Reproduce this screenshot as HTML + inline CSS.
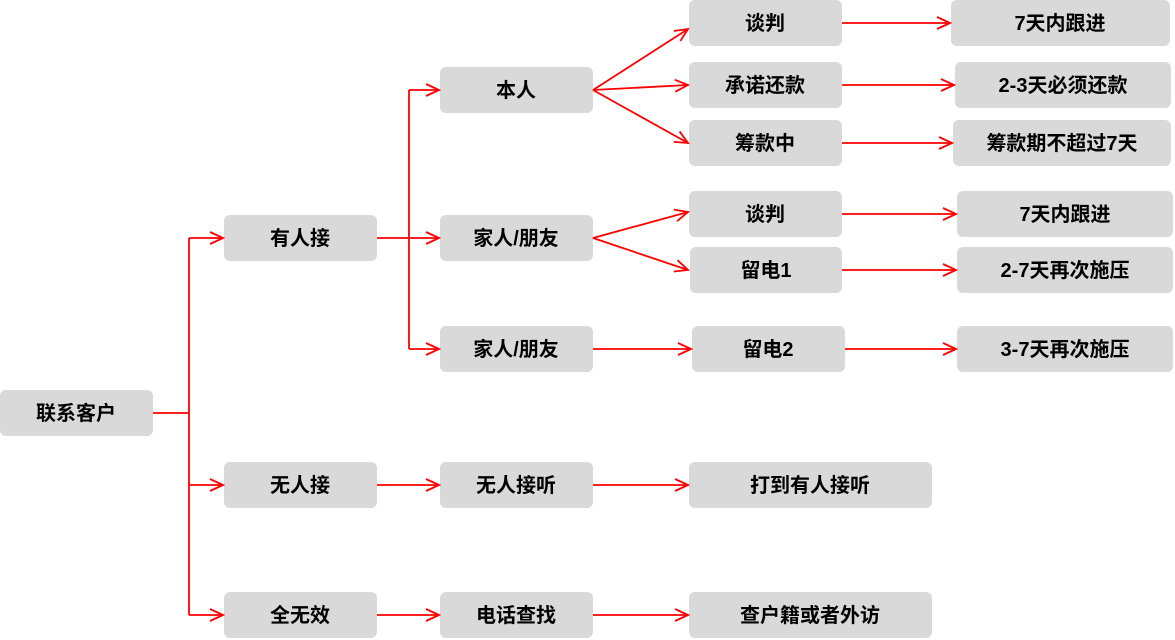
<!DOCTYPE html>
<html><head><meta charset="utf-8"><style>
html,body{margin:0;padding:0;background:#fff;width:1175px;height:640px;overflow:hidden}
svg text{font-family:"Liberation Sans","Noto Sans CJK SC",sans-serif;font-weight:bold;font-size:20px;fill:#000;text-anchor:middle;dominant-baseline:central}
</style></head><body>
<svg width="1175" height="640" viewBox="0 0 1175 640" xmlns="http://www.w3.org/2000/svg">
<defs><marker id="a" markerWidth="16" markerHeight="14" refX="14" refY="7" orient="auto" markerUnits="userSpaceOnUse"><path d="M1,1 L14,7 L1,13" fill="none" stroke="#f00" stroke-width="1.8"/></marker></defs>
<g fill="#d9d9d9">
<rect x="0" y="390" width="153" height="46" rx="6"/>
<rect x="224" y="215" width="153" height="46" rx="6"/>
<rect x="224" y="462" width="153" height="46" rx="6"/>
<rect x="224" y="592" width="153" height="46" rx="6"/>
<rect x="440" y="67" width="153" height="46" rx="6"/>
<rect x="440" y="215" width="153" height="46" rx="6"/>
<rect x="440" y="326" width="153" height="46" rx="6"/>
<rect x="440" y="462" width="153" height="46" rx="6"/>
<rect x="440" y="592" width="153" height="46" rx="6"/>
<rect x="689" y="0" width="153" height="46" rx="6"/>
<rect x="689" y="62" width="153" height="46" rx="6"/>
<rect x="689" y="120" width="153" height="46" rx="6"/>
<rect x="689" y="191" width="153" height="46" rx="6"/>
<rect x="690" y="247" width="152" height="46" rx="6"/>
<rect x="692" y="326" width="153" height="46" rx="6"/>
<rect x="689" y="462" width="243" height="46" rx="6"/>
<rect x="689" y="592" width="243" height="46" rx="6"/>
<rect x="951" y="0" width="219" height="46" rx="6"/>
<rect x="955" y="62" width="216" height="46" rx="6"/>
<rect x="953" y="120" width="218" height="46" rx="6"/>
<rect x="957" y="191" width="216" height="46" rx="6"/>
<rect x="957" y="247" width="216" height="46" rx="6"/>
<rect x="957" y="326" width="216" height="46" rx="6"/>
</g>
<g stroke="#f00" stroke-width="1.8" fill="none">
<path d="M153,413 H189 M189,238 V615 M377,238 H409 M409,90 V349"/>
<path d="M189,238 H223" marker-end="url(#a)"/>
<path d="M189,485 H223" marker-end="url(#a)"/>
<path d="M189,615 H223" marker-end="url(#a)"/>
<path d="M409,90 H439" marker-end="url(#a)"/>
<path d="M409,238 H439" marker-end="url(#a)"/>
<path d="M409,349 H439" marker-end="url(#a)"/>
<path d="M377,485 H439" marker-end="url(#a)"/>
<path d="M377,615 H439" marker-end="url(#a)"/>
<path d="M593,90 L688,29" marker-end="url(#a)"/>
<path d="M593,90 L688,85" marker-end="url(#a)"/>
<path d="M593,90 L688,143" marker-end="url(#a)"/>
<path d="M593,238 L688,212" marker-end="url(#a)"/>
<path d="M593,238 L688,270" marker-end="url(#a)"/>
<path d="M593,349 H691" marker-end="url(#a)"/>
<path d="M593,485 H688" marker-end="url(#a)"/>
<path d="M593,615 H688" marker-end="url(#a)"/>
<path d="M842,23 H950" marker-end="url(#a)"/>
<path d="M842,85 H954" marker-end="url(#a)"/>
<path d="M842,143 H952" marker-end="url(#a)"/>
<path d="M842,214 H956" marker-end="url(#a)"/>
<path d="M842,270 H956" marker-end="url(#a)"/>
<path d="M845,349 H956" marker-end="url(#a)"/>
</g>
<g transform="translate(0,1)">
<text x="76" y="413">联系客户</text>
<text x="300" y="238">有人接</text>
<text x="300" y="485">无人接</text>
<text x="300" y="615">全无效</text>
<text x="516" y="90">本人</text>
<text x="516" y="238">家人/朋友</text>
<text x="516" y="349">家人/朋友</text>
<text x="516" y="485">无人接听</text>
<text x="516" y="615">电话查找</text>
<text x="765" y="23">谈判</text>
<text x="765" y="85">承诺还款</text>
<text x="765" y="143">筹款中</text>
<text x="765" y="214">谈判</text>
<text x="766" y="270">留电1</text>
<text x="768" y="349">留电2</text>
<text x="810" y="485">打到有人接听</text>
<text x="810" y="615">查户籍或者外访</text>
<text x="1060" y="23">7天内跟进</text>
<text x="1063" y="85">2-3天必须还款</text>
<text x="1062" y="143">筹款期不超过7天</text>
<text x="1065" y="214">7天内跟进</text>
<text x="1065" y="270">2-7天再次施压</text>
<text x="1065" y="349">3-7天再次施压</text>
</g>
</svg>
</body></html>
